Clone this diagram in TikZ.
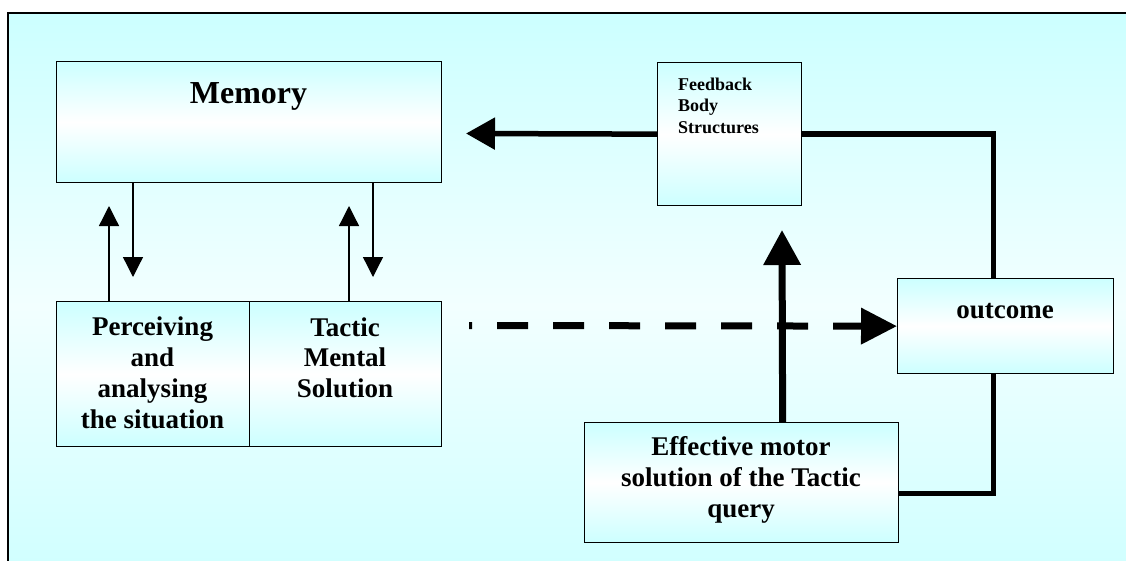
\documentclass[tikz,border=0pt]{standalone}
\usepackage{fontspec}
\setmainfont{Liberation Serif}
\usetikzlibrary{arrows.meta}
\definecolor{cy}{HTML}{CCFFFF}
\begin{document}
\begin{tikzpicture}[x=1pt,y=-1pt,
  box/.style={draw=black, line width=1.3pt, top color=cy, bottom color=cy, middle color=white, inner sep=0pt, anchor=north west},
  txt/.style={font=\bfseries\fontsize{27}{30.7}\selectfont, align=center, anchor=base, inner sep=0pt},
  thin/.style={line width=1.3pt, -{Triangle[length=20pt,width=20pt]}},
  thick/.style={line width=5.5pt},
  dashline/.style={line width=7pt, dash pattern=on 31pt off 25pt, dash phase=28pt, -{Triangle[length=36pt,width=35pt]}}
]
\useasboundingbox (0,0) rectangle (1126,560);
\clip (0,0) rectangle (1126,560);
% outer frame
\shade[top color=cy, bottom color=cy, middle color={rgb,255:red,242;green,255;blue,255}] (8,13) rectangle (1150,600);
\draw[line width=1.5pt] (1150,13) -- (8,13) -- (8,600);

% boxes
\node[box, minimum width=385pt, minimum height=121pt] (mem) at (56,61) {};
\node[box, minimum width=144pt, minimum height=143pt] (fb) at (657,62) {};
\node[box, minimum width=193pt, minimum height=145pt] (perc) at (56,301) {};
\node[box, minimum width=192pt, minimum height=145pt] (tac) at (249,301) {};
\node[box, minimum width=216pt, minimum height=95pt] (out) at (897,278) {};
\node[box, minimum width=314pt, minimum height=120pt] (mot) at (584,422) {};

% texts (anchor base = baseline of last line)
\node[txt, font=\bfseries\fontsize{32}{36}\selectfont] (memt) at (248.5,103) {Memory};
\node[font=\bfseries\fontsize{18}{21.5}\selectfont, align=left, anchor=base west, inner sep=0pt] (fbt) at (678,133) {Feedback\\Body\\Structures};
\node[txt] (perct) at (152.5,428) {Perceiving\\and\\analysing\\the situation};
\node[txt] (tact) at (345,397.4) {Tactic\\Mental\\Solution};
\node[txt] (outt) at (1005,318) {outcome};
\node[txt] (mott) at (741,517) {Effective motor\\solution of the Tactic\\query};

% small arrows
\draw[thin] (109,0 |- perc.north) -- (109,206);
\draw[thin] (133,0 |- mem.south) -- (133,277);
\draw[thin] (349,0 |- tac.north) -- (349,206);
\draw[thin] (373,0 |- mem.south) -- (373,277);

% feedback arrow to memory
\coordinate (memtip) at (466,133.5);
\draw[thick, -{Triangle[length=29pt,width=31pt]}] (fb.west) -- (memtip);
% outcome to feedback
\draw[thick] ([xshift=-12pt]out.north) |- (fb.east);
% motor to outcome
\draw[thick] ([yshift=-11pt]mot.east) -| ([xshift=-12pt]out.south);
% motor up arrow
\coordinate (uptip) at (782,230);
\draw[line width=7pt, -{Triangle[length=35pt,width=36pt]}] ([xshift=41pt]mot.north) -- (uptip);
% dashed arrow
\coordinate (dstart) at (469,325.5);
\draw[dashline] (dstart) -- (out.west);
\end{tikzpicture}
\end{document}
